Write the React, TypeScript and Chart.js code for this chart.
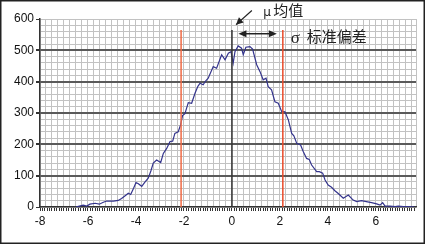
import React, { useEffect, useRef } from "react";
import { Chart, registerables } from "chart.js";

Chart.register(...registerables);

// Histogram of simulated normal values
const xValues = [
  -6.5, -6.4, -6.2, -6.05, -5.92, -5.7, -5.53, -5.36, -5.22, -4.94, -4.74, -4.6, -4.45, -4.32, -4.22, -4.1,
  -4.0, -3.9, -3.76, -3.62, -3.49, -3.38, -3.28, -3.14, -2.97, -2.86, -2.72, -2.58, -2.47, -2.38, -2.24,
  -2.14, -2.06, -1.96, -1.82, -1.68, -1.54, -1.42, -1.33, -1.2, -1.1, -0.99, -0.78, -0.64, -0.43, -0.29,
  -0.15, -0.04, 0.05, 0.125, 0.26, 0.4, 0.47, 0.58, 0.75, 0.86, 1.03, 1.17, 1.3, 1.42, 1.51, 1.65, 1.79,
  1.93, 2.07, 2.21, 2.35, 2.49, 2.58, 2.7, 2.86, 2.97, 3.11, 3.22, 3.32, 3.53, 3.64, 3.78, 3.88, 4.01,
  4.15, 4.29, 4.43, 4.64, 4.85, 5.05, 5.2, 5.4, 5.6, 5.82, 6.03, 6.17, 6.28, 6.38, 6.58, 6.8, 6.93, 7.15,
  7.4, 7.6,
];
const counts = [
  0, 2, 6, 3, 9, 12, 9, 15, 19, 19, 21, 27, 36, 44, 40, 60,
  78, 74, 66, 80, 92, 115, 140, 150, 142, 171, 187, 209, 210, 235, 240,
  262, 292, 298, 333, 331, 363, 385, 395, 390, 402, 411, 448, 443, 486, 470,
  491, 496, 459, 496, 514, 507, 486, 510, 512, 504, 454, 432, 406, 411, 384, 374, 336,
  331, 305, 304, 278, 235, 227, 203, 198, 177, 155, 152, 134, 113, 113, 108, 86, 70,
  63, 52, 43, 28, 38, 22, 17, 20, 17, 14, 10, 6, 14, 3, 3, 1, 3, 1,
  1, 0,
];
const xTickLabels = ["-8", "-6", "-4", "-2", "0", "2", "4", "6"];
const yTickLabels = ["0", "100", "200", "300", "400", "500", "600"];
const meanValue = 0;
const sigmaValue = 2.12;
const markerTop = 565;
const meanLabel = "均值";
const sigmaLabel = "标准偏差";

const X_MIN = -8;
const X_MAX = 7.67;

const isMult = (v: number, m: number) => Math.abs(v / m - Math.round(v / m)) < 1e-4;

export default function App() {
  const ref = useRef<HTMLCanvasElement | null>(null);

  useEffect(() => {
    if (!ref.current) return;

    const annotations = {
      id: "annotations",
      afterDatasetsDraw(chart: any) {
        const { ctx, scales } = chart;
        const px = (v: number) => scales.x.getPixelForValue(v);
        const py = (v: number) => scales.y.getPixelForValue(v);
        ctx.save();
        ctx.fillStyle = "#222";
        ctx.strokeStyle = "#222";
        ctx.lineWidth = 1.2;

        // mu arrow
        const tipX = px(0.17), tipY = py(582);
        const sx = px(0.83), sy = py(627);
        const ang = Math.atan2(tipY - sy, tipX - sx);
        ctx.beginPath();
        ctx.moveTo(sx, sy);
        ctx.lineTo(tipX, tipY);
        ctx.stroke();
        const ah = 7, aw = 3.5;
        ctx.beginPath();
        ctx.moveTo(tipX, tipY);
        ctx.lineTo(tipX - ah * Math.cos(ang) + aw * Math.sin(ang), tipY - ah * Math.sin(ang) - aw * Math.cos(ang));
        ctx.lineTo(tipX - ah * Math.cos(ang) - aw * Math.sin(ang), tipY - ah * Math.sin(ang) + aw * Math.cos(ang));
        ctx.closePath();
        ctx.fill();

        // sigma double arrow
        const ax1 = px(0.27), ax2 = px(1.87), ay = py(553);
        ctx.lineWidth = 1.5;
        ctx.beginPath();
        ctx.moveTo(ax1 + 4, ay);
        ctx.lineTo(ax2 - 4, ay);
        ctx.stroke();
        ctx.beginPath();
        ctx.moveTo(ax1, ay);
        ctx.lineTo(ax1 + 8, ay - 3.5);
        ctx.lineTo(ax1 + 8, ay + 3.5);
        ctx.closePath();
        ctx.fill();
        ctx.beginPath();
        ctx.moveTo(ax2, ay);
        ctx.lineTo(ax2 - 8, ay - 3.5);
        ctx.lineTo(ax2 - 8, ay + 3.5);
        ctx.closePath();
        ctx.fill();

        // texts
        ctx.textBaseline = "alphabetic";
        ctx.textAlign = "left";
        ctx.font = '12px "DejaVu Sans", sans-serif';
        ctx.fillText("μ", px(1.3), py(608));
        ctx.font = '15px "Noto Sans CJK SC"';
        ctx.fillText(meanLabel, px(1.72), py(609));
        ctx.font = '17px "Liberation Serif", serif';
        ctx.fillText("σ", px(2.45), py(525));
        ctx.font = '15px "Noto Sans CJK SC"';
        ctx.fillText(sigmaLabel, px(3.12), py(527));

        // outer frame
        ctx.strokeStyle = "#222";
        ctx.lineWidth = 1.5;
        ctx.strokeRect(0.75, 0.75, chart.width - 1.5, chart.height - 1.5);
        ctx.restore();
      },
    };

    const chart = new Chart(ref.current, {
      type: "line",
      data: {
        datasets: [
          {
            data: [
              { x: -sigmaValue, y: 0 },
              { x: -sigmaValue, y: markerTop },
            ],
            borderColor: "#f06a45",
            borderWidth: 1.5,
            pointRadius: 0,
          },
          {
            data: [
              { x: sigmaValue, y: 0 },
              { x: sigmaValue, y: markerTop },
            ],
            borderColor: "#ea4a2a",
            borderWidth: 1.5,
            pointRadius: 0,
          },
          {
            data: [
              { x: meanValue, y: 0 },
              { x: meanValue, y: markerTop },
            ],
            borderColor: "#333",
            borderWidth: 1.5,
            pointRadius: 0,
          },
          {
            data: xValues.map((x, i) => ({ x, y: counts[i] })),
            borderColor: "#34348c",
            borderWidth: 1.2,
            pointRadius: 0,
            tension: 0,
          },
        ],
      },
      options: {
        animation: false,
        responsive: false,
        events: [],
        layout: { padding: { top: 19, right: 9, left: 0, bottom: 0 } },
        plugins: { legend: { display: false }, tooltip: { enabled: false } },
        scales: {
          x: {
            type: "linear",
            min: X_MIN,
            max: X_MAX,
            afterFit: (s: any) => {
              s.height = 37;
            },
            ticks: {
              stepSize: 0.05,
              autoSkip: false,
              maxRotation: 0,
              minRotation: 0,
              padding: 3,
              color: "#111",
              font: { family: '"Liberation Sans", Arial, sans-serif', size: 12 },
              callback: (v: any) => {
                const n = Number(v);
                if (!isMult(n, 2)) return "";
                const s = String(Math.round(n));
                return xTickLabels.includes(s) ? s : "";
              },
            },
            grid: {
              color: (c: any) => {
                const v = c.tick?.value ?? 0;
                return isMult(v, 0.25) || Math.abs(v - X_MAX) < 1e-6 ? "#c2c2c2" : "rgba(0,0,0,0)";
              },
              lineWidth: 1,
              tickLength: 4,
              tickColor: (c: any) => {
                const v = c.tick?.value ?? 0;
                return isMult(v, 0.1) ? "#333" : "rgba(0,0,0,0)";
              },
              tickWidth: 1,
            },
            border: { color: "#333", width: 1.5 },
          },
          y: {
            min: 0,
            max: 600,
            afterFit: (s: any) => {
              s.width = 40;
            },
            ticks: {
              stepSize: 20,
              autoSkip: false,
              padding: 2,
              color: "#111",
              font: { family: '"Liberation Sans", Arial, sans-serif', size: 12 },
              callback: (v: any) => {
                const n = Number(v);
                if (!isMult(n, 100)) return "";
                const s = String(Math.round(n));
                return yTickLabels.includes(s) ? s : "";
              },
            },
            grid: {
              color: (c: any) => {
                const v = c.tick?.value ?? 0;
                return isMult(v, 100) && v > 0 && v < 600 ? "#5a5a5a" : "#c2c2c2";
              },
              lineWidth: (c: any) => {
                const v = c.tick?.value ?? 0;
                return isMult(v, 100) && v > 0 && v < 600 ? 2 : 1;
              },
              tickLength: 4,
              tickColor: (c: any) => {
                const v = c.tick?.value ?? 0;
                return isMult(v, 100) ? "#333" : "rgba(0,0,0,0)";
              },
            },
            border: { color: "#333", width: 1.5 },
          },
        },
      },
      plugins: [annotations],
    } as any);

    return () => chart.destroy();
  }, []);

  return (
    <div style={{ position: "fixed", left: 0, top: 0, width: 425, height: 244, background: "#fff" }}>
      <canvas ref={ref} width={425} height={244} style={{ display: "block" }} />
    </div>
  );
}
